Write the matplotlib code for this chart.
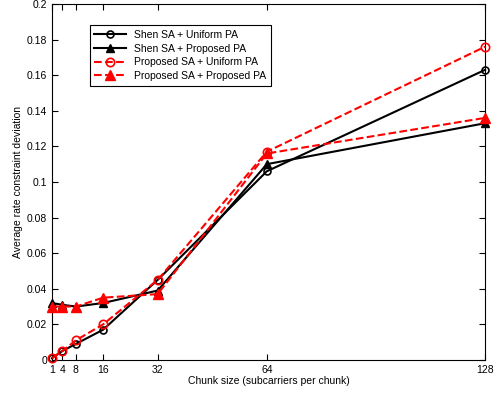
import matplotlib
matplotlib.use("Agg")
import matplotlib.pyplot as plt

plt.rcParams['font.family'] = ['Liberation Sans', 'DejaVu Sans']

chunk = [1, 4, 8, 16, 32, 64, 128]
shen_uniform = [0.001, 0.005, 0.009, 0.017, 0.045, 0.106, 0.163]
shen_proposed = [0.032, 0.031, 0.030, 0.032, 0.039, 0.110, 0.133]
prop_uniform = [0.001, 0.005, 0.011, 0.020, 0.045, 0.117, 0.176]
prop_proposed = [0.030, 0.030, 0.030, 0.035, 0.037, 0.116, 0.136]

fig = plt.figure(figsize=(4.95, 3.96), dpi=100)
ax = fig.add_axes([0.105, 0.091, 0.875, 0.899])

ax.plot(chunk, shen_uniform, 'k-o', lw=1.5, ms=5, mfc='none', mew=1.2,
        label='Shen SA + Uniform PA', clip_on=False, zorder=3)
ax.plot(chunk, shen_proposed, 'k-^', lw=1.5, ms=6, mfc='k',
        label='Shen SA + Proposed PA', clip_on=False, zorder=3)
ax.plot(chunk, prop_uniform, 'r--o', lw=1.5, ms=6, mfc='none', mew=1.2,
        label='Proposed SA + Uniform PA', clip_on=False, zorder=3)
ax.plot(chunk, prop_proposed, 'r--^', lw=1.5, ms=7, mfc='r',
        label='Proposed SA + Proposed PA', clip_on=False, zorder=3)

ax.set_xlim(1, 128)
ax.set_ylim(0, 0.2)
ax.set_xticks(chunk)
ax.set_yticks([i * 0.02 for i in range(11)])
ax.set_yticklabels(['0', '0.02', '0.04', '0.06', '0.08', '0.1', '0.12',
                    '0.14', '0.16', '0.18', '0.2'])
ax.tick_params(direction='in', top=True, right=True, labelsize=7.5, length=4)
ax.set_xlabel('Chunk size (subcarriers per chunk)', fontsize=7.5, labelpad=1)
ax.set_ylabel('Average rate constraint deviation', fontsize=7.5, labelpad=3)

leg = ax.legend(loc='upper left', bbox_to_anchor=(0.075, 0.955), fontsize=7.5,
                fancybox=False, edgecolor='k', framealpha=1, handlelength=3,
                borderpad=0.45, labelspacing=0.35)
leg.get_frame().set_linewidth(0.8)

fig.savefig('out.png', dpi=100)
